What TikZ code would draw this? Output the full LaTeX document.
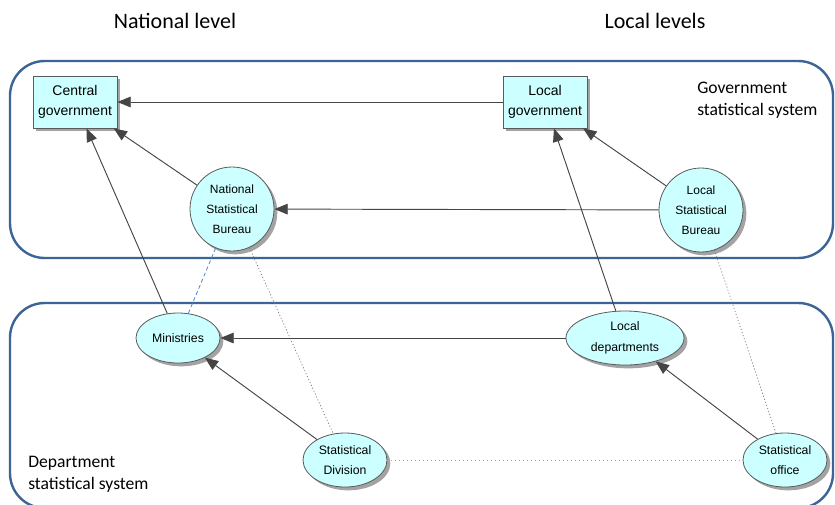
\documentclass[tikz,border=0pt]{standalone}
\usepackage{fontspec}
\setmainfont{Liberation Sans}
\newfontfamily\calib{Carlito}
\usetikzlibrary{arrows.meta,shapes.geometric,shadows}
\definecolor{framec}{HTML}{3C6496}
\definecolor{nodefill}{HTML}{CCFFFF}
\definecolor{nodeline}{HTML}{5A5A5A}
\definecolor{arrowc}{HTML}{454545}
\definecolor{bluedash}{HTML}{4F86D6}
\definecolor{dotc}{HTML}{707070}
\tikzset{
  frame/.style={draw=framec, line width=1.8pt, rounded corners=26pt},
  shadowed/.style={drop shadow={shadow xshift=2.5pt, shadow yshift=-2.5pt, fill=black!45, opacity=0.8}},
  rectnode/.style={rectangle, draw=nodeline, line width=0.6pt, fill=nodefill, shadowed,
    minimum width=63pt, minimum height=39pt, inner sep=1pt, align=center,
    font=\fontsize{10.5}{15}\selectfont},
  circnode/.style={circle, draw=nodeline, line width=0.6pt, fill=nodefill, shadowed,
    minimum size=63pt, inner sep=0pt, align=center,
    font=\fontsize{9}{15}\selectfont},
  ellnode/.style={ellipse, draw=nodeline, line width=0.6pt, fill=nodefill, shadowed,
    minimum width=63pt, minimum height=40.5pt, inner sep=0pt, align=center,
    font=\fontsize{9.2}{15.5}\selectfont},
  arr/.style={draw=arrowc, line width=0.7pt, -{Triangle[length=10pt,width=8pt]}},
  dotline/.style={draw=dotc, line width=0.5pt, dash pattern=on 0.8pt off 1.6pt},
  dotlight/.style={draw=black!35, line width=0.5pt, dash pattern=on 0.8pt off 2.2pt},
  bluel/.style={draw=bluedash, line width=0.6pt, dash pattern=on 3pt off 2pt},
  levellabel/.style={font=\calib\fontsize{16.5}{20}\selectfont, anchor=base},
  syslabel/.style={font=\calib\fontsize{13.2}{16.5}\selectfont, align=left, anchor=base west, inner sep=0pt}
}
\begin{document}
\begin{tikzpicture}[x=0.75pt,y=-0.75pt]
\useasboundingbox (0,0) rectangle (835,504);
\clip (0,0) rectangle (835,504);
\fill[white] (0,0) rectangle (835,504);
% frames
\draw[frame] (10,61) rectangle (833,258);
\draw[frame] (10,303) rectangle (833,508);
% labels
\node[levellabel] (natl) at (175,28) {National level};
\node[levellabel] (locl) at (655,28) {Local levels};
\node[syslabel] (govsys) at (697,115) {Government\\statistical system};
\node[syslabel] (depsys) at (28,489) {Department\\statistical system};
% nodes
\node[rectnode] (cg) at (75,102) {Central\\government};
\node[rectnode] (lg) at (545,102) {Local\\government};
\node[circnode] (nsb) at (232,209) {National\\Statistical\\Bureau};
\node[circnode] (lsb) at (701,210) {Local\\Statistical\\Bureau};
\node[ellnode, minimum height=37.5pt] (min) at (178,338) {Ministries};
\node[ellnode, minimum width=88.5pt] (ld) at (625,338) {Local\\departments};
\node[ellnode] (sd) at (345,460) {Statistical\\Division};
\node[ellnode] (so) at (785,460) {Statistical\\office};
% dotted / dashed relations
\draw[bluel] (nsb) -- (min);
\draw[dotline] (nsb) -- (sd);
\draw[dotline] (lsb) -- (so);
\draw[dotlight] (sd) -- (so);
% arrows
\draw[arr] (lg) -- (cg);
\draw[arr] (nsb) -- (cg);
\draw[arr] (min) -- (cg);
\draw[arr] (lsb) -- (nsb);
\draw[arr] (lsb) -- (lg);
\draw[arr] (ld) -- (lg);
\draw[arr] (ld) -- (min);
\draw[arr] (sd) -- (min);
\draw[arr] (so) -- (ld);
\end{tikzpicture}
\end{document}
